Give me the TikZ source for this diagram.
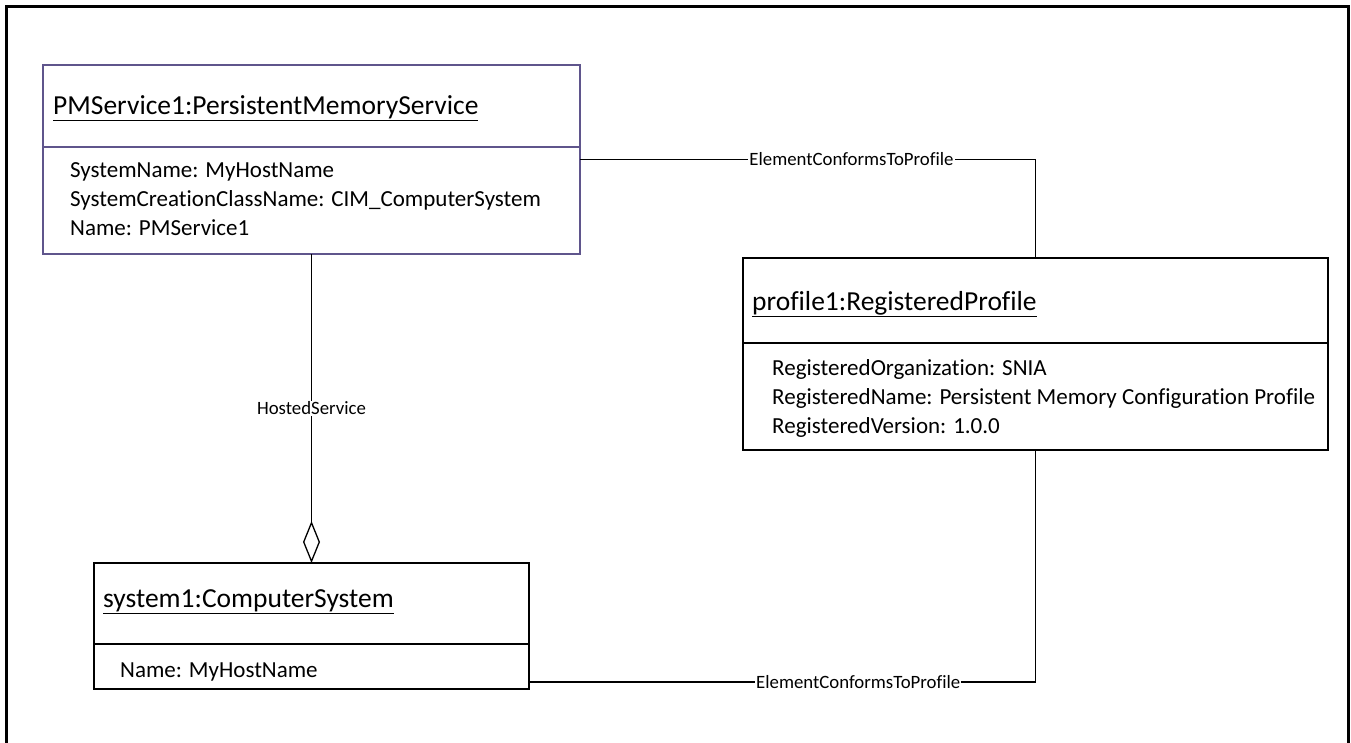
\documentclass[tikz,border=0pt]{standalone}
\usepackage{fontspec}
\setmainfont{Carlito}[Ligatures=CommonOff]
\usetikzlibrary{arrows.meta}
\definecolor{pmborder}{RGB}{95,85,140}
\tikzset{
  umlbox/.style={draw, line width=1.3pt, anchor=north west, inner sep=0pt, outer sep=0pt},
  titletext/.style={anchor=base west, inner sep=0pt, font=\fontsize{27.5}{32}\selectfont},
  attrtext/.style={anchor=base west, inner sep=0pt, font=\fontsize{23}{27}\selectfont},
  conn/.style={draw, line width=1.3pt},
  connlabel/.style={fill=white, inner sep=1pt, font=\fontsize{18.8}{22}\selectfont},
}
\begin{document}
\begin{tikzpicture}[x=1pt,y=-1pt]
\useasboundingbox (0,0) rectangle (1351,742);
% outer frame
\draw[line width=3pt] (6.5,760) -- (6.5,6.5) -- (1348.5,6.5) -- (1348.5,760);

% PMService box
\node[umlbox, draw=pmborder, minimum width=537pt, minimum height=189pt] (pm) at (43,65) {};
\draw[pmborder, line width=1.3pt] (43,147) -- (580,147);
\node[titletext] (pmtitle) at (53,114) {\underline{PMService1:PersistentMemoryService}};
\node[attrtext] (pma1) at (70,177) {SystemName: MyHostName};
\node[attrtext] (pma2) at (70,206) {SystemCreationClassName: CIM\_ComputerSystem};
\node[attrtext] (pma3) at (70,235) {Name: PMService1};

% profile box
\node[umlbox, minimum width=585pt, minimum height=192pt] (prof) at (743,258) {};
\draw[line width=1.3pt] (743,343) -- (1328,343);
\node[titletext] (proftitle) at (752,310) {\underline{profile1:RegisteredProfile}};
\node[attrtext] (profa1) at (772,375) {RegisteredOrganization: SNIA};
\node[attrtext] (profa2) at (772,404) {RegisteredName: Persistent Memory Configuration Profile};
\node[attrtext] (profa3) at (772,433) {RegisteredVersion: 1.0.0};

% system box
\node[umlbox, minimum width=435pt, minimum height=126pt] (sys) at (94,563) {};
\draw[line width=1.3pt] (94,644) -- (529,644);
\node[titletext] (systitle) at (103,607) {\underline{system1:ComputerSystem}};
\node[attrtext] (sysa1) at (120,677) {Name: MyHostName};

\coordinate (sysr) at (529,682);

% connectors
\draw[conn] (pm.east) -| (prof.north) node[connlabel, pos=0.298] {ElementConformsToProfile};
\draw[conn] (prof.south) |- (sysr) node[connlabel, pos=0.675] {ElementConformsToProfile};
\draw[conn, -{Diamond[open, length=42pt, width=17pt, line width=1.3pt]}] (pm.south) -- (sys.north)
  node[connlabel, pos=0.5] {HostedService};
\end{tikzpicture}
\end{document}
